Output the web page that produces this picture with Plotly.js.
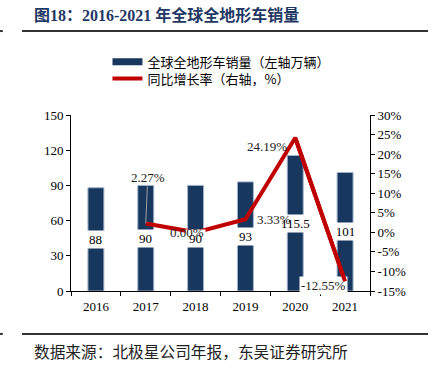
<!DOCTYPE html>
<html>
<head>
<meta charset="utf-8">
<script src="https://cdn.plot.ly/plotly-3.0.1.min.js"></script>
<style>html,body{margin:0;padding:0;background:#fff;}#chart{width:432px;height:373px;}</style>
</head>
<body>
<div id="chart"></div>
<script>
const years = ['2016', '2017', '2018', '2019', '2020', '2021'];
const sales = [88, 90, 90, 93, 115.5, 101];
const salesLabels = ['88', '90', '90', '93', '115.5', '101'];
const growthYears = ['2017', '2018', '2019', '2020', '2021'];
const growth = [0.0227, 0.0, 0.0333, 0.2419, -0.1255];
const growthLabels = ['2.27%', '0.00%', '3.33%', '24.19%', '-12.55%'];
const leftTicks = [0, 30, 60, 90, 120, 150];
const rightTicks = [-0.15, -0.10, -0.05, 0, 0.05, 0.10, 0.15, 0.20, 0.25, 0.30];
const rightTickText = ['-15%', '-10%', '-5%', '0%', '5%', '10%', '15%', '20%', '25%', '30%'];
const seriesNames = ['全球全地形车销量（左轴万辆）', '同比增长率（右轴，%）'];
const titleText = '图18：2016-2021 年全球全地形车销量';
const sourceText = '数据来源：北极星公司年报，东吴证券研究所';

const navy = '#17375e';
const red = '#c00000';
const serif = '"Liberation Serif", "Times New Roman", serif';
const cjk = '"Noto Sans CJK SC", sans-serif';

const traces = [
  {
    type: 'bar', x: years, y: sales, width: 0.32,
    marker: {color: navy, line: {color: '#9fb3cc', width: 1}},
    showlegend: false, hoverinfo: 'skip'
  },
  {
    type: 'scatter', mode: 'lines', x: [years[0]], y: [null], name: seriesNames[0],
    line: {color: navy, width: 7}, showlegend: true, legend: 'legend', hoverinfo: 'skip'
  },
  {
    type: 'scatter', mode: 'lines', x: growthYears, y: growth, yaxis: 'y2',
    name: seriesNames[1], line: {color: red, width: 4}, legend: 'legend2'
  }
];

const annotations = [];
years.forEach((yr, i) => {
  annotations.push({
    x: years.indexOf(yr), y: sales[i] / 2, xref: 'x', yref: 'y', text: salesLabels[i],
    showarrow: false, bgcolor: '#ffffff', borderpad: 1,
    width: salesLabels[i].length <= 3 ? 17 : undefined,
    font: {family: serif, size: 13, color: '#000'}
  });
});
const lblShift = [[2, 46], [-9, 0], [29, 0], [-28, -9], [-22, -4]];
growthYears.forEach((yr, i) => {
  const a = {
    x: years.indexOf(yr), y: growth[i], xref: 'x', yref: 'y2', text: growthLabels[i],
    font: {family: serif, size: 13, color: '#222'}
  };
  if (i === 0) {
    Object.assign(a, {showarrow: true, arrowhead: 0, arrowwidth: 1, arrowcolor: '#a0a0a0',
      ax: lblShift[i][0], ay: -lblShift[i][1], standoff: 0});
  } else {
    Object.assign(a, {showarrow: false, xshift: lblShift[i][0], yshift: lblShift[i][1]});
  }
  if (i === 4) a.bgcolor = '#ffffff';
  annotations.push(a);
});
// keep the last red segment visible above the white label box
const nG = growthYears.length;
annotations.push({
  x: years.indexOf(growthYears[nG - 1]), y: growth[nG - 1], xref: 'x', yref: 'y2',
  ax: years.indexOf(growthYears[nG - 2]), ay: growth[nG - 2], axref: 'x', ayref: 'y2',
  text: '', showarrow: true, arrowhead: 0, arrowwidth: 4, arrowcolor: red, standoff: 0, startstandoff: 0
});
annotations.push({
  xref: 'paper', yref: 'paper', x: -0.132, y: 1.568, xanchor: 'left', yanchor: 'middle',
  text: '<b>' + titleText + '</b>', showarrow: false,
  font: {family: '"Liberation Serif", "Noto Sans CJK SC", serif', size: 16, color: '#1f3864'}
});
annotations.push({
  xref: 'paper', yref: 'paper', x: -0.132, y: -0.341, xanchor: 'left', yanchor: 'middle',
  text: sourceText, showarrow: false,
  font: {family: cjk, size: 15.7, color: '#222'}
});

const legendBase = {xanchor: 'left', yanchor: 'top', bgcolor: 'rgba(0,0,0,0)',
  font: {family: cjk, size: 13, color: '#000'}, itemwidth: 30, borderwidth: 0};

const layout = {
  width: 432, height: 373,
  margin: {l: 71, r: 62, t: 115, b: 82},
  paper_bgcolor: '#fff', plot_bgcolor: '#fff',
  showlegend: true,
  legend: Object.assign({x: 0.122, y: 1.388}, legendBase),
  legend2: Object.assign({x: 0.122, y: 1.292}, legendBase),
  xaxis: {
    type: 'category', categoryorder: 'array', categoryarray: years, range: [-0.5, 5.5],
    showline: true, linecolor: '#000', linewidth: 1,
    ticks: 'outside', tickson: 'boundaries', ticklen: 4, tickcolor: '#000',
    ticklabelstandoff: 3,
    showgrid: false, zeroline: false, fixedrange: true,
    tickfont: {family: serif, size: 13, color: '#000'}
  },
  yaxis: {
    range: [0, 150], tickvals: leftTicks, showline: true, linecolor: '#000',
    ticks: 'outside', ticklen: 4, tickcolor: '#000', showgrid: false, zeroline: false,
    tickfont: {family: serif, size: 13, color: '#000'}
  },
  yaxis2: {
    overlaying: 'y', side: 'right', range: [-0.15, 0.30], tickvals: rightTicks, ticktext: rightTickText,
    showline: true, linecolor: '#000', ticks: 'outside', ticklen: 4, tickcolor: '#000',
    showgrid: false, zeroline: false,
    tickfont: {family: serif, size: 13, color: '#000'}
  },
  shapes: [
    {type: 'line', xref: 'paper', yref: 'paper', x0: -0.164, x1: 1.194, y0: 1.477, y1: 1.477,
      line: {color: '#333', width: 2}},
    {type: 'line', xref: 'paper', yref: 'paper', x0: -0.238, x1: -0.228, y0: 1.477, y1: 1.477,
      line: {color: '#333', width: 2}},
    {type: 'line', xref: 'paper', yref: 'paper', x0: -0.164, x1: 1.194, y0: -0.244, y1: -0.244,
      line: {color: '#333', width: 2}},
    {type: 'line', xref: 'paper', yref: 'paper', x0: -0.238, x1: -0.228, y0: -0.244, y1: -0.244,
      line: {color: '#333', width: 2}}
  ],
  annotations: annotations
};

Plotly.newPlot('chart', traces, layout, {displayModeBar: false, staticPlot: true});
</script>
</body>
</html>
